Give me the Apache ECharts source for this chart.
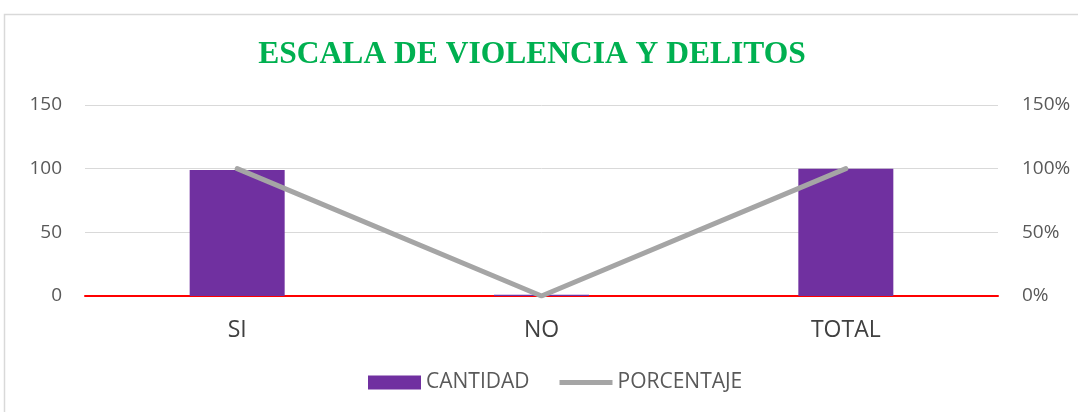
<!DOCTYPE html>
<html>
<head>
<meta charset="utf-8">
<script src="https://cdn.jsdelivr.net/npm/echarts@6/dist/echarts.min.js"></script>
<style>
html,body{margin:0;padding:0;background:#fff;}
#c{width:1078px;height:412px;}
</style>
</head>
<body>
<div id="c"></div>
<script>
var categories = ['SI', 'NO', 'TOTAL'];
var cantidad = [99, 1, 100];
var porcentaje = [100, 0, 100];
var leftTicks = [0, 50, 100, 150];
var rightTicks = [0, 50, 100, 150];

var chart = echarts.init(document.getElementById('c'));
var labelFont = "'Open Sans', 'Liberation Sans', sans-serif";
chart.setOption({
  animation: false,
  backgroundColor: '#fff',
  title: {
    text: 'ESCALA DE VIOLENCIA Y DELITOS',
    left: 527, top: 34, textAlign: 'center',
    textStyle: {fontFamily: "'Liberation Serif', 'DejaVu Serif', serif", fontWeight: 'bold', fontSize: 31.5, color: '#00B050'}
  },
  graphic: [{
    type: 'rect', shape: {x: 4.5, y: 14.5, width: 1200, height: 500},
    style: {fill: 'none', stroke: '#D9D9D9', lineWidth: 1.5}, silent: true
  }],
  legend: {
    bottom: 14, left: 363, itemGap: 30, itemWidth: 53, itemHeight: 14,
    textStyle: {fontFamily: labelFont, fontSize: 21, color: '#595959'},
    data: [
      {name: 'CANTIDAD', icon: 'rect'},
      {name: 'PORCENTAJE', icon: 'path://M0,0 L55,0 L55,5 L0,5 Z'}
    ]
  },
  grid: {left: 85, right: 80, top: 105, bottom: 116},
  xAxis: {
    type: 'category', data: categories,
    axisLine: {lineStyle: {color: '#FF0000', width: 2}},
    axisTick: {show: false},
    axisLabel: {fontFamily: labelFont, fontSize: 23, color: '#404040', margin: 23}
  },
  yAxis: [{
    type: 'value', min: 0, max: 150, interval: 50,
    axisLine: {show: false}, axisTick: {show: false},
    splitLine: {lineStyle: {color: '#D9D9D9', width: 1}},
    axisLabel: {fontFamily: labelFont, fontSize: 19, color: '#595959', margin: 23}
  }, {
    type: 'value', min: 0, max: 150, interval: 50,
    axisLine: {show: false}, axisTick: {show: false},
    splitLine: {show: false},
    axisLabel: {fontFamily: labelFont, fontSize: 19, color: '#595959', margin: 24, formatter: '{value}%'}
  }],
  series: [{
    name: 'CANTIDAD', type: 'bar', data: cantidad, barWidth: 95,
    itemStyle: {color: '#7030A0'}, yAxisIndex: 0
  }, {
    name: 'PORCENTAJE', type: 'line', data: porcentaje, yAxisIndex: 1,
    symbol: 'none', lineStyle: {color: '#A5A5A5', width: 5, cap: 'round', join: 'round'},
    itemStyle: {color: '#A5A5A5'}, z: 5
  }]
});
</script>
</body>
</html>
